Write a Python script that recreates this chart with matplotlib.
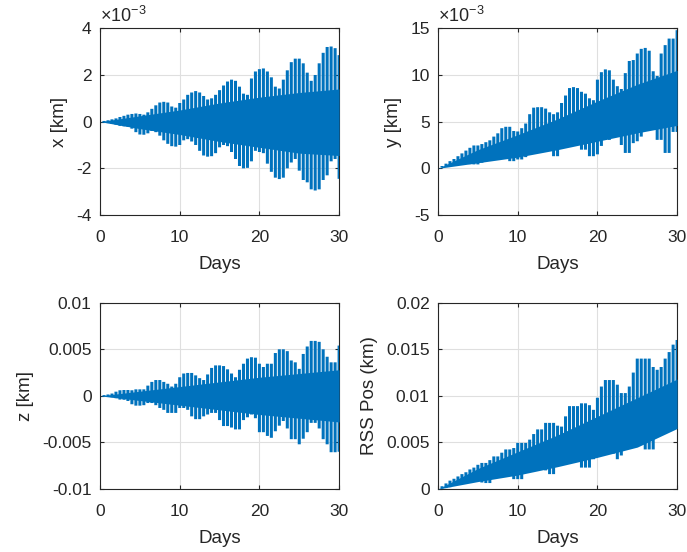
import numpy as np
import matplotlib.pyplot as plt

plt.rcParams['font.family'] = ['Liberation Sans', 'DejaVu Sans']
plt.rcParams['axes.unicode_minus'] = False
plt.rcParams['mathtext.default'] = 'regular'

# sample times of the twice-daily peaks (days)
days = np.arange(0, 30.5, 0.5)
days_core = np.array([0, 5, 10, 15, 20, 25, 30])

# peak envelopes, units of 1e-3 km
x_hi = [0.0, 0.03, 0.06, 0.1, 0.14, 0.2, 0.25, 0.3, 0.33, 0.35, 0.33, 0.3, 0.4, 0.55, 0.7, 0.82,
        0.85, 0.82, 0.65, 0.6, 0.8, 0.95, 1.15, 1.25, 1.31, 1.25, 1.1, 0.95, 1.0, 1.15, 1.35,
        1.55, 1.72, 1.8, 1.75, 1.5, 1.2, 1.15, 1.85, 2.15, 2.25, 2.28, 2.15, 1.9, 1.5, 1.42,
        1.8, 2.2, 2.55, 2.7, 2.7, 2.5, 2.1, 1.75, 2.0, 2.5, 2.95, 3.2, 3.22, 3.15, 2.85]
x_lo = [0.0, -0.03, -0.06, -0.1, -0.13, -0.18, -0.2, -0.22, -0.3, -0.45, -0.55, -0.56, -0.5,
        -0.4, -0.45, -0.6, -0.8, -0.95, -1.05, -1.07, -1.0, -0.8, -0.75, -0.85, -1.0, -1.25,
        -1.45, -1.5, -1.48, -1.35, -1.1, -1.0, -1.05, -1.3, -1.6, -1.9, -2.0, -1.98, -1.7,
        -1.25, -1.3, -1.35, -1.8, -2.15, -2.4, -2.46, -2.4, -2.0, -1.75, -1.6, -2.1, -2.5,
        -2.6, -2.9, -2.95, -2.9, -2.5, -2.3, -1.7, -1.6, -2.45]
x_core_hi = [0, 0.25, 0.5, 0.8, 1.05, 1.25, 1.4]
x_core_lo = [0, -0.3, -0.55, -0.85, -1.1, -1.35, -1.45]

y_hi = [0.0, 0.25, 0.5, 0.77, 1.0, 1.3, 1.6, 1.9, 2.2, 2.45, 2.45, 2.6, 2.8, 3.0, 3.4, 3.75,
        4.3, 4.45, 4.45, 4.0, 3.95, 4.3, 4.8, 5.8, 6.5, 6.55, 6.55, 6.4, 6.0, 5.8, 6.0, 7.0,
        7.8, 8.6, 8.7, 8.6, 8.2, 8.0, 7.5, 7.3, 9.5, 10.3, 10.6, 10.5, 9.5, 8.8, 8.5, 10.2,
        11.5, 11.6, 12.3, 12.8, 12.9, 12.6, 10.4, 9.9, 12.3, 13.2, 13.9, 13.9, 14.8]
y_lo = [0.0, 0.1, 0.2, 0.3, 0.4, 0.5, 0.6, 0.55, 0.45, 0.42, 0.42, 0.6, 0.95, 0.95, 1.2, 1.3,
        1.3, 1.0, 0.77, 0.77, 0.95, 0.95, 1.2, 1.65, 1.65, 1.8, 2.0, 2.0, 2.0, 1.3, 1.3, 2.35,
        2.7, 3.05, 3.05, 2.6, 2.0, 2.0, 1.3, 1.3, 1.5, 2.4, 3.05, 3.05, 3.75, 3.75, 2.5, 1.65,
        1.65, 2.7, 2.9, 3.4, 4.0, 4.45, 4.45, 3.05, 3.05, 1.65, 1.65, 3.9, 3.9]
y_core_hi = [0, 2.0, 3.6, 5.3, 7.2, 9.0, 10.5]
y_core_lo = [0, 0.6, 1.2, 2.0, 2.9, 3.8, 4.6]

z_hi = [0.0, 0.08, 0.15, 0.25, 0.45, 0.6, 0.63, 0.63, 0.6, 0.7, 0.7, 0.7, 1.1, 1.5, 1.7, 1.7,
        1.5, 1.3, 1.0, 1.3, 2.0, 2.4, 2.46, 2.46, 2.2, 1.9, 1.7, 2.3, 3.0, 3.27, 3.27, 3.2,
        2.85, 2.4, 2.0, 2.8, 3.45, 4.0, 4.15, 4.1, 3.45, 3.1, 3.45, 3.45, 4.6, 5.0, 5.0, 4.8,
        3.8, 3.6, 2.9, 4.5, 5.3, 5.9, 5.9, 5.8, 5.0, 4.2, 3.6, 3.6, 5.4]
z_lo = [0.0, -0.05, -0.1, -0.15, -0.25, -0.4, -0.42, -0.55, -0.9, -1.05, -1.05, -1.0, -0.77,
        -0.77, -1.0, -1.3, -1.5, -1.83, -1.83, -1.83, -1.3, -1.3, -1.5, -2.2, -2.5, -2.5, -2.2,
        -2.0, -1.83, -1.83, -2.6, -3.24, -3.24, -3.4, -3.6, -3.6, -2.6, -2.3, -2.0, -2.4, -3.9,
        -3.9, -4.3, -4.5, -3.8, -3.2, -2.7, -3.5, -4.65, -4.65, -5.2, -4.6, -3.9, -2.9, -2.9,
        -3.5, -4.65, -5.2, -6.05, -6.05, -6.0]
z_core_hi = [0, 0.5, 1.0, 1.5, 2.0, 2.4, 2.8]
z_core_lo = [0, -0.5, -1.0, -1.5, -2.0, -2.4, -2.8]

rss_hi = [0.0, 0.3, 0.6, 0.9, 1.1, 1.35, 1.6, 1.8, 2.1, 2.3, 2.6, 2.8, 2.8, 3.1, 3.5, 3.5, 3.9,
          4.25, 4.25, 4.4, 4.95, 4.95, 4.95, 5.3, 5.9, 6.4, 6.4, 7.1, 7.1, 7.1, 6.8, 6.7, 7.8,
          8.9, 8.9, 8.9, 9.2, 9.2, 9.0, 8.5, 9.8, 11.0, 11.7, 11.7, 11.7, 11.2, 10.3, 10.3,
          11.0, 12.5, 14.0, 14.0, 14.0, 14.0, 13.1, 12.8, 13.1, 14.0, 14.7, 15.5, 16.0]
rss_lo = [0.0, 0.05, 0.1, 0.2, 0.35, 0.5, 0.7, 0.8, 0.9, 0.9, 0.9, 0.7, 0.64, 0.64, 1.4, 1.8,
          2.2, 2.5, 1.8, 1.06, 1.06, 1.06, 2.0, 2.8, 3.2, 2.8, 2.5, 2.0, 1.6, 1.6, 2.5, 3.5, 4.0,
          4.25, 4.25, 3.0, 2.3, 2.3, 2.3, 3.2, 4.3, 5.3, 5.3, 5.3, 3.8, 3.2, 3.6, 4.6, 5.2, 5.7,
          6.2, 6.7, 4.25, 4.25, 4.25, 7.1, 7.1, 7.4, 7.8, 7.0, 6.7]
rss_core_hi = [0, 2.2, 4.0, 5.8, 7.8, 9.8, 11.8]
rss_core_lo = [0, 0.8, 1.5, 2.4, 3.4, 4.5, 6.5]

blue = '#0072BD'
dark = '#262626'


def panel(ax, hi, lo, core_hi, core_lo, scale, ylim, yticks, yticklabels, ylabel, exp=False):
    hi = np.array(hi) * scale
    lo = np.array(lo) * scale
    ax.fill_between(days_core, np.array(core_lo) * scale, np.array(core_hi) * scale,
                    color=blue, lw=0, zorder=3)
    bars = ax.bar(days, hi - lo, bottom=lo, width=0.38, color=blue, lw=0, zorder=3)
    for b in bars:
        b.set_snap(False)
    ax.set_xlim(0, 30)
    ax.set_ylim(*ylim)
    ax.set_xticks([0, 10, 20, 30])
    ax.set_yticks(yticks)
    ax.set_yticklabels(yticklabels)
    ax.grid(True, color='#dfdfdf', lw=0.8)
    ax.set_axisbelow(True)
    for s in ax.spines.values():
        s.set_color(dark)
        s.set_linewidth(0.8)
    ax.tick_params(direction='in', length=3, colors=dark, labelsize=12.5,
                   top=True, right=True)
    ax.tick_params(axis='x', pad=11)
    ax.tick_params(axis='y', pad=6)
    ax.set_xlabel('Days', fontsize=13.5, color=dark, labelpad=8)
    ax.set_ylabel(ylabel, fontsize=13.5, color=dark, labelpad=6)
    if exp:
        ax.text(0, 1.012, r'$\times10^{-3}$', transform=ax.transAxes,
                fontsize=13, color=dark, va='bottom', ha='left')


fig = plt.figure(figsize=(6.87, 5.52), dpi=100)
ax1 = fig.add_axes([0.1456, 0.6105, 0.348, 0.3382])
ax2 = fig.add_axes([0.6376, 0.6105, 0.348, 0.3382])
ax3 = fig.add_axes([0.1456, 0.1141, 0.348, 0.3375])
ax4 = fig.add_axes([0.6376, 0.1141, 0.348, 0.3375])

panel(ax1, x_hi, x_lo, x_core_hi, x_core_lo, 1.0, (-4, 4),
      [-4, -2, 0, 2, 4], ['-4', '-2', '0', '2', '4'], 'x [km]', exp=True)
panel(ax2, y_hi, y_lo, y_core_hi, y_core_lo, 1.0, (-5, 15),
      [-5, 0, 5, 10, 15], ['-5', '0', '5', '10', '15'], 'y [km]', exp=True)
panel(ax3, z_hi, z_lo, z_core_hi, z_core_lo, 1e-3, (-0.01, 0.01),
      [-0.01, -0.005, 0, 0.005, 0.01], ['-0.01', '-0.005', '0', '0.005', '0.01'], 'z [km]')
panel(ax4, rss_hi, rss_lo, rss_core_hi, rss_core_lo, 1e-3, (0, 0.02),
      [0, 0.005, 0.01, 0.015, 0.02], ['0', '0.005', '0.01', '0.015', '0.02'], 'RSS Pos (km)')

fig.savefig('out.png', dpi=100)
